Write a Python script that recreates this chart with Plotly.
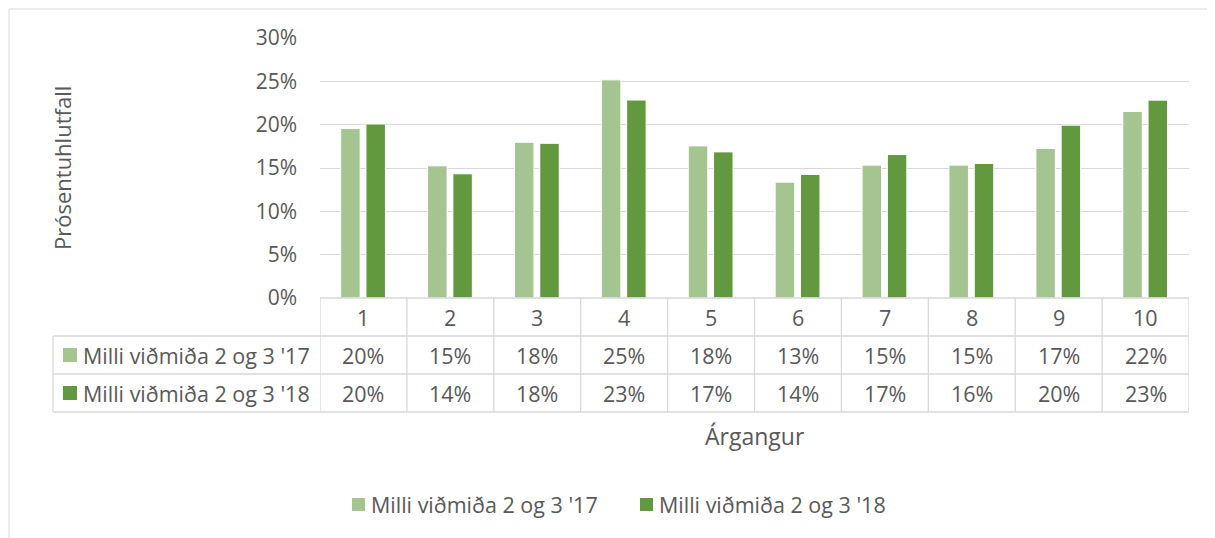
import plotly.graph_objects as go

# data
cats = [1, 2, 3, 4, 5, 6, 7, 8, 9, 10]
names = ["Milli viðmiða 2 og 3 '17", "Milli viðmiða 2 og 3 '18"]
vals_17 = [0.1955, 0.1525, 0.1797, 0.2517, 0.1755, 0.1337, 0.1533, 0.1533, 0.1725, 0.2152]
vals_18 = [0.2008, 0.1433, 0.1785, 0.2284, 0.1686, 0.1425, 0.1655, 0.1552, 0.1994, 0.2283]
yticks = [0, 0.05, 0.10, 0.15, 0.20, 0.25, 0.30]

colors = ["#A4C490", "#62993E"]
grid = "#D9D9D9"
txt = "#595959"
font = "Open Sans"

# page body has an 8px margin, so the figure starts at (8, 8) of the window
OFF = 8
FW, FH = 1215 - OFF, 538 - OFF
# plot area in window pixels
L, R, T, B = 320, 1189, 38, 298
W, H = R - L, B - T

def xp(px):
    return (px - L) / W

def yp(py):
    return (B - py) / H

fig = go.Figure()
series = [vals_17, vals_18]
offsets = [-0.262, 0.029]
for i in range(len(series)):
    fig.add_trace(go.Bar(x=cats, y=series[i], name=names[i], width=0.224, offset=offsets[i],
                         marker=dict(color=colors[i], line=dict(color="white", width=1)),
                         showlegend=False))

shapes = []
anns = []
lw = 1.3
# outer chart border
shapes.append(dict(type="rect", xref="paper", yref="paper", x0=xp(9), x1=xp(1240), y0=yp(9), y1=yp(580),
                   line=dict(color=grid, width=1)))
# data table lines
row_y = [298, 336, 374, 412]
shapes.append(dict(type="line", xref="paper", yref="paper", x0=0, x1=1, y0=yp(298), y1=yp(298),
                   line=dict(color=grid, width=lw)))
for ry in row_y[1:]:
    shapes.append(dict(type="line", xref="paper", yref="paper", x0=xp(53), x1=1, y0=yp(ry), y1=yp(ry),
                       line=dict(color=grid, width=lw)))
shapes.append(dict(type="line", xref="paper", yref="paper", x0=xp(53), x1=xp(53), y0=yp(336), y1=yp(412),
                   line=dict(color=grid, width=lw)))
for k in range(len(cats) + 1):
    xv = cats[0] - 0.5 + k
    shapes.append(dict(type="line", xref="x", yref="paper", x0=xv, x1=xv, y0=yp(298), y1=yp(412),
                       line=dict(color=grid, width=lw)))

cell_font = dict(size=21.5, color=txt, family=font)
# header row with categories
for c in cats:
    anns.append(dict(x=c, y=yp(317), xref="x", yref="paper", text=str(c), showarrow=False,
                     xanchor="center", yanchor="middle", font=cell_font))
# value rows
for i in range(len(series)):
    cy = (row_y[i + 1] + row_y[i + 2]) / 2
    for c, v in zip(cats, series[i]):
        anns.append(dict(x=c, y=yp(cy), xref="x", yref="paper", text=f"{round(v * 100)}%", showarrow=False,
                         xanchor="center", yanchor="middle", font=cell_font))
    shapes.append(dict(type="rect", xref="paper", yref="paper", x0=xp(63), x1=xp(77), y0=yp(cy - 7), y1=yp(cy + 7),
                       fillcolor=colors[i], line=dict(width=0)))
    anns.append(dict(x=xp(81), y=yp(cy), xref="paper", yref="paper", text=names[i], showarrow=False,
                     xanchor="left", yanchor="middle", font=cell_font))

# legend below the chart
leg_x = [352, 640]
leg_y = 505
for i in range(len(series)):
    shapes.append(dict(type="rect", xref="paper", yref="paper", x0=xp(leg_x[i]), x1=xp(leg_x[i] + 13),
                       y0=yp(leg_y - 7), y1=yp(leg_y + 6), fillcolor=colors[i], line=dict(width=0)))
    anns.append(dict(x=xp(leg_x[i] + 17), y=yp(leg_y), xref="paper", yref="paper", text=names[i], showarrow=False,
                     xanchor="left", yanchor="middle", font=cell_font))

# axis titles
anns.append(dict(x=xp(755), y=yp(436), xref="paper", yref="paper", text="Árgangur", showarrow=False,
                 xanchor="center", yanchor="middle", font=dict(size=23, color=txt, family=font)))
anns.append(dict(x=xp(62), y=yp(168), xref="paper", yref="paper", text="Prósentuhlutfall", showarrow=False,
                 xanchor="center", yanchor="middle", textangle=-90, font=dict(size=22, color=txt, family=font)))

fig.update_layout(
    width=FW, height=FH,
    margin=dict(l=L - OFF, r=FW - (R - OFF), t=T - OFF, b=FH - (B - OFF), pad=0),
    paper_bgcolor="white", plot_bgcolor="white",
    barmode="overlay",
    showlegend=False,
    shapes=shapes, annotations=anns,
)
fig.update_xaxes(range=[0.5, 10.5], showticklabels=False, showgrid=False, zeroline=False, showline=False)
fig.update_yaxes(range=[0, 0.3], tickvals=yticks, tickformat=".0%", showgrid=True, gridcolor=grid, gridwidth=1.3,
                 zeroline=False, showline=False, ticklabelstandoff=22,
                 tickfont=dict(size=21, color=txt, family=font))

fig.write_html("out.html")
